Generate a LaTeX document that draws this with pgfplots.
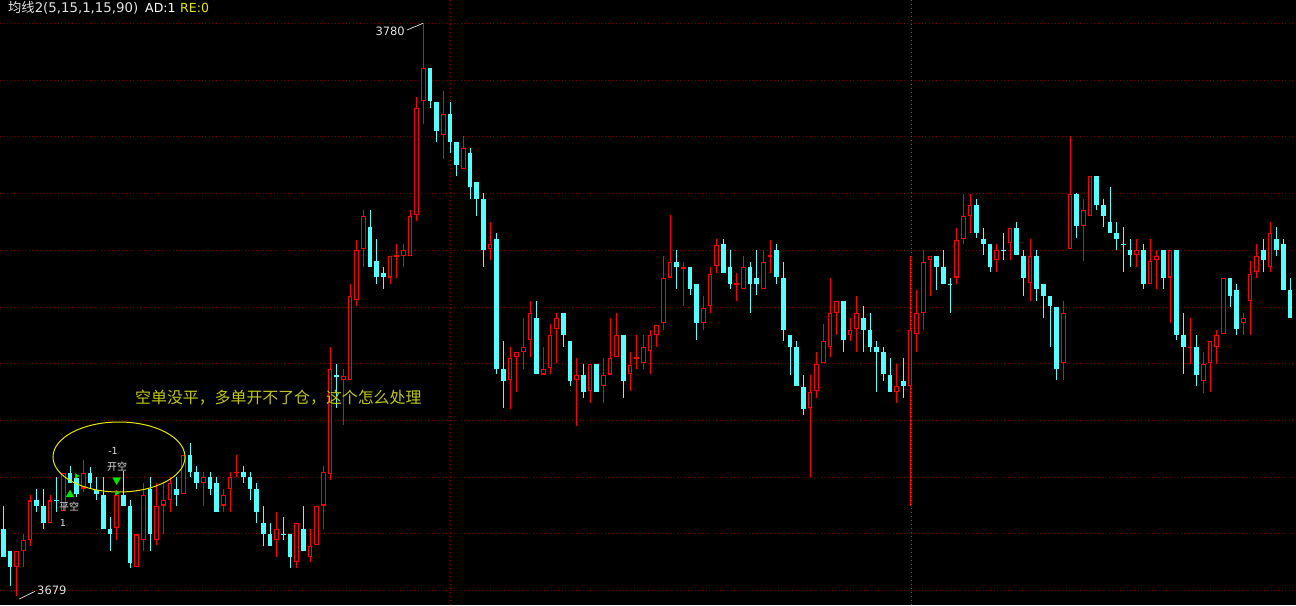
\documentclass[border=0pt]{standalone}
\usepackage{fontspec}
\setmainfont{DejaVu Sans}
\newfontfamily\cjk{Noto Sans CJK SC}
\usepackage{pgfplots}
\pgfplotsset{compat=1.18}
\usepackage{pgfplotstable}
\definecolor{kcyan}{RGB}{84,255,255}
\definecolor{kred}{RGB}{255,0,0}
\definecolor{gridred}{RGB}{125,0,0}
\definecolor{vred}{RGB}{150,0,0}
\definecolor{vgrey}{RGB}{90,90,90}
\definecolor{sig}{RGB}{0,230,0}
\definecolor{note}{RGB}{190,200,20}
\definecolor{ell}{RGB}{230,230,0}
\definecolor{lab}{RGB}{225,225,225}

% up candles (red, hollow): index open high low close
\pgfplotstableread{
i O H L C
2 3684.1 3687.0 3679.0 3687.0
3 3687.0 3689.9 3684.1 3688.9
4 3689.0 3696.8 3687.9 3695.9
7 3692.0 3696.8 3692.0 3695.9
9 3694.0 3700.8 3694.0 3700.8
12 3698.0 3703.0 3697.4 3700.8
17 3691.0 3697.8 3689.0 3696.8
20 3684.1 3689.9 3684.1 3689.9
21 3689.0 3698.9 3687.0 3696.8
23 3689.0 3698.9 3688.0 3694.9
24 3695.0 3698.9 3690.0 3695.9
25 3696.0 3700.0 3693.9 3698.9
27 3697.0 3703.9 3697.0 3703.9
30 3699.0 3700.9 3695.0 3700.0
33 3695.0 3697.9 3693.9 3696.8
34 3697.9 3700.9 3693.9 3700.0
35 3700.9 3703.9 3700.0 3700.9
41 3689.0 3693.9 3686.0 3690.9
44 3685.0 3691.9 3684.0 3691.9
46 3686.0 3690.9 3685.0 3687.9
47 3688.0 3694.9 3688.0 3694.9
48 3695.0 3702.0 3690.9 3700.9
49 3700.5 3722.9 3699.5 3719.0
51 3717.1 3719.0 3709.2 3717.9
52 3717.1 3734.0 3717.1 3731.9
53 3731.2 3741.9 3730.2 3740.0
54 3740.2 3747.1 3737.1 3746.0
58 3735.2 3739.0 3734.0 3739.0
59 3739.0 3741.1 3735.2 3739.0
60 3739.0 3741.1 3737.1 3740.0
61 3739.0 3747.1 3739.0 3746.0
62 3746.2 3767.0 3745.1 3765.0
63 3766.3 3780.0 3762.2 3772.1
66 3760.3 3768.1 3756.1 3764.0
69 3754.3 3760.1 3754.3 3758.0
73 3740.2 3745.0 3738.2 3741.1
76 3717.1 3723.0 3712.1 3721.0
77 3721.1 3722.0 3715.1 3722.0
78 3722.1 3728.0 3719.1 3723.0
79 3724.1 3731.0 3721.1 3728.9
81 3718.1 3722.9 3718.1 3719.0
82 3719.2 3727.0 3718.1 3725.0
83 3726.1 3729.0 3720.1 3728.0
86 3717.1 3721.0 3709.1 3718.0
88 3715.1 3719.9 3713.0 3719.9
90 3716.0 3721.0 3713.0 3718.0
91 3718.1 3728.0 3718.1 3721.0
92 3721.1 3728.9 3721.1 3725.0
94 3718.1 3722.1 3715.1 3719.8
95 3721.0 3725.0 3719.1 3721.0
96 3720.1 3725.0 3719.1 3722.9
97 3722.2 3725.9 3718.1 3725.0
98 3725.1 3726.9 3723.0 3726.9
99 3727.1 3739.0 3725.9 3735.1
100 3735.2 3746.2 3735.2 3738.0
102 3736.9 3738.0 3730.1 3736.9
105 3727.1 3731.9 3725.9 3729.9
106 3730.1 3737.1 3729.0 3735.9
107 3737.2 3742.0 3736.0 3741.0
110 3734.1 3736.0 3731.1 3734.1
111 3733.1 3739.0 3733.1 3737.1
114 3733.1 3740.0 3733.1 3738.0
115 3739.0 3741.8 3736.0 3739.0
121 3712.1 3718.0 3700.1 3715.0
122 3715.1 3722.1 3714.0 3719.9
123 3720.1 3727.0 3720.1 3724.0
124 3723.0 3735.1 3721.1 3728.9
125 3729.0 3731.1 3725.1 3731.1
127 3725.1 3728.0 3724.0 3725.9
128 3726.1 3731.9 3722.1 3728.9
134 3715.0 3720.0 3713.0 3716.0
136 3716.0 3739.0 3694.9 3725.9
137 3725.2 3733.0 3722.1 3728.9
138 3729.0 3740.0 3725.9 3738.0
139 3738.2 3739.0 3731.9 3739.0
143 3735.2 3744.0 3734.1 3741.9
144 3742.0 3750.0 3741.1 3746.0
145 3746.1 3750.0 3743.1 3747.9
149 3738.2 3741.1 3736.1 3740.0
151 3741.2 3744.0 3738.2 3744.0
154 3734.2 3742.0 3731.1 3739.0
159 3720.1 3731.1 3717.1 3728.9
160 3740.2 3760.1 3740.2 3750.0
162 3744.2 3749.0 3738.1 3747.1
163 3746.1 3753.1 3746.1 3753.1
170 3739.1 3742.0 3737.1 3740.1
172 3734.1 3742.0 3734.1 3738.1
173 3738.2 3740.1 3733.1 3739.0
175 3735.2 3740.1 3727.1 3740.1
178 3722.9 3728.1 3720.0 3722.9
180 3717.0 3722.0 3714.9 3720.0
181 3720.1 3724.0 3715.0 3724.0
182 3723.0 3725.9 3720.0 3725.0
183 3725.2 3735.1 3725.2 3735.1
186 3727.1 3728.9 3725.1 3728.0
187 3731.1 3738.1 3725.1 3735.9
188 3736.1 3741.1 3735.1 3739.0
190 3737.1 3745.0 3736.1 3743.0
}\upc

% down candles (cyan, filled)
\pgfplotstableread{
i O H L C
0 3690.9 3694.9 3686.0 3686.0
1 3687.0 3687.0 3680.9 3684.1
5 3696.0 3697.9 3693.9 3695.0
6 3694.9 3697.9 3690.9 3692.0
8 3695.9 3700.0 3693.9 3695.9
10 3700.8 3702.0 3698.9 3699.0
11 3699.9 3700.5 3696.5 3697.0
13 3700.8 3701.8 3698.0 3699.0
14 3697.8 3700.0 3696.0 3697.0
15 3696.8 3700.0 3690.9 3690.9
16 3690.9 3693.0 3687.0 3690.0
18 3696.8 3701.0 3695.0 3695.0
19 3694.9 3696.0 3684.0 3684.9
22 3697.9 3700.0 3687.0 3690.0
26 3697.9 3700.0 3695.0 3696.8
28 3703.9 3706.0 3700.1 3700.9
29 3700.9 3702.0 3697.9 3698.9
31 3700.0 3700.9 3696.9 3697.9
32 3699.0 3700.0 3693.9 3693.9
36 3700.9 3702.0 3699.0 3700.0
37 3700.0 3700.9 3696.0 3697.9
38 3697.9 3699.0 3691.9 3693.9
39 3691.9 3694.9 3687.9 3690.0
40 3690.0 3691.9 3687.9 3687.9
42 3689.9 3693.0 3688.9 3689.9
43 3689.9 3689.9 3684.0 3686.0
45 3690.9 3694.9 3687.0 3687.0
50 3717.9 3720.0 3712.1 3717.9
55 3744.1 3747.1 3737.1 3737.1
56 3738.1 3741.9 3734.0 3735.2
57 3736.0 3737.1 3733.1 3735.2
64 3772.1 3772.1 3765.1 3766.3
65 3766.1 3766.1 3759.1 3761.1
67 3764.0 3766.1 3757.2 3759.1
68 3759.1 3759.1 3753.1 3755.1
70 3757.1 3758.0 3749.1 3751.2
71 3752.0 3752.0 3746.1 3749.1
72 3749.0 3750.0 3737.1 3740.1
74 3742.0 3743.0 3718.1 3719.1
75 3719.1 3724.0 3712.1 3717.0
80 3728.1 3731.0 3718.1 3718.1
84 3729.0 3729.0 3723.0 3725.1
85 3724.0 3724.0 3716.0 3717.0
87 3718.0 3720.0 3714.0 3715.1
89 3720.0 3720.0 3715.1 3715.1
93 3725.0 3725.0 3714.0 3717.0
101 3738.0 3740.0 3733.1 3737.1
103 3737.1 3737.1 3732.1 3733.1
104 3734.1 3734.1 3724.1 3727.1
108 3741.1 3742.0 3736.0 3736.0
109 3737.1 3740.0 3733.1 3734.1
112 3737.1 3738.0 3728.9 3734.1
113 3735.1 3740.0 3732.1 3734.1
116 3740.0 3741.1 3734.1 3735.2
117 3735.1 3738.0 3724.0 3726.0
118 3725.0 3725.0 3718.0 3723.0
119 3722.9 3724.0 3716.0 3716.0
120 3715.9 3718.0 3711.0 3712.1
126 3731.1 3731.1 3722.1 3724.1
129 3728.0 3730.1 3722.1 3726.0
130 3725.9 3728.9 3722.1 3723.0
131 3723.0 3724.0 3715.0 3722.1
132 3722.1 3723.0 3717.0 3718.1
133 3718.0 3721.0 3715.0 3715.0
135 3717.0 3721.0 3714.0 3716.0
140 3739.0 3739.0 3733.0 3737.1
141 3737.1 3740.0 3734.1 3734.1
142 3734.0 3735.1 3728.9 3734.0
146 3747.9 3749.0 3742.1 3743.1
147 3742.0 3744.0 3739.1 3741.1
148 3741.1 3741.1 3736.1 3737.1
150 3740.0 3743.0 3738.2 3740.0
152 3744.0 3745.0 3739.1 3739.1
153 3739.0 3740.0 3732.0 3735.2
155 3739.0 3740.0 3731.1 3733.1
156 3734.1 3734.1 3728.1 3732.0
157 3732.0 3732.0 3723.0 3730.1
158 3730.0 3730.0 3717.1 3719.1
161 3750.0 3750.0 3742.1 3744.2
164 3753.1 3753.1 3747.1 3748.0
165 3748.0 3749.0 3744.1 3746.1
166 3745.0 3751.2 3743.1 3743.1
167 3743.0 3745.0 3740.1 3742.0
168 3741.1 3744.1 3736.1 3741.1
169 3740.1 3742.0 3737.1 3739.1
171 3740.1 3741.1 3733.1 3734.1
174 3740.1 3740.1 3733.1 3735.2
176 3740.1 3740.1 3724.1 3725.1
177 3725.1 3728.9 3718.1 3723.0
179 3723.0 3725.1 3716.0 3718.0
184 3735.1 3735.1 3730.0 3732.0
185 3733.0 3734.1 3725.1 3726.1
189 3740.0 3742.0 3736.1 3738.2
191 3742.0 3744.1 3739.0 3740.0
192 3741.1 3742.0 3733.0 3733.0
193 3733.0 3735.1 3728.1 3728.1
}\dnc

\begin{document}
\begin{tikzpicture}
\begin{axis}[
  scale only axis, width=1296pt, height=605pt,
  xmin=-0.5, xmax=193.9, ymin=3677.46, ymax=3784.11,
  axis background/.style={fill=black},
  axis line style={draw=none},
  xtick=\empty,
  ytick={3680,3690,...,3780}, yticklabels={},
  major tick length=0pt,
  ymajorgrids,
  major grid style={draw=gridred, line width=0.9pt, dash pattern=on 1pt off 2.6pt},
]
\coordinate (BL) at (rel axis cs:0,0);
\coordinate (TR) at (rel axis cs:1,1);

% vertical separators
\draw[vred, line width=1pt, dash pattern=on 1pt off 3pt] (axis cs:67.07,3677.46) -- (axis cs:67.07,3784.11);
\draw[vgrey, line width=1pt, dash pattern=on 1pt off 3pt] (axis cs:136.25,3677.46) -- (axis cs:136.25,3784.11);

% cyan wicks and bodies
\addplot[draw=none, mark=none, forget plot, error bars/.cd, y dir=both, y explicit, error mark=none,
  error bar style={draw=kcyan, line width=1pt, solid}]
  table[x=i, y expr={(\thisrow{H}+\thisrow{L})/2}, y error expr={(\thisrow{H}-\thisrow{L})/2}] {\dnc};
\addplot[draw=none, mark=none, forget plot, error bars/.cd, y dir=both, y explicit, error mark=none,
  error bar style={draw=kcyan, line width=4.8pt, solid}]
  table[x=i, y expr={(\thisrow{O}+\thisrow{C})/2}, y error expr={max((\thisrow{O}-\thisrow{C})/2,0.09)}] {\dnc};

% red wicks and hollow bodies
\addplot[draw=none, mark=none, forget plot, error bars/.cd, y dir=both, y explicit, error mark=none,
  error bar style={draw=kred, line width=1pt, solid}]
  table[x=i, y expr={(\thisrow{H}+\thisrow{L})/2}, y error expr={(\thisrow{H}-\thisrow{L})/2}] {\upc};
\addplot[draw=none, mark=none, forget plot, error bars/.cd, y dir=both, y explicit, error mark=none,
  error bar style={draw=kred, line width=4.8pt, solid}]
  table[x=i, y expr={(\thisrow{O}+\thisrow{C})/2}, y error expr={max((\thisrow{C}-\thisrow{O})/2,0.09)}] {\upc};
\addplot[draw=none, mark=none, forget plot, error bars/.cd, y dir=both, y explicit, error mark=none,
  error bar style={draw=black, line width=2.6pt, solid}]
  table[x=i, y expr={(\thisrow{O}+\thisrow{C})/2}, y error expr={max((\thisrow{C}-\thisrow{O})/2-0.19,0)}] {\upc};

% signals
\addplot[only marks, mark=triangle*, mark size=4.5pt, color=sig] coordinates {(10,3696.9)};
\addplot[only marks, mark=triangle*, mark size=4.5pt, color=sig, mark options={rotate=180}] coordinates {(17,3699.5)};
\addplot[only marks, mark=triangle*, mark size=2.5pt, color=sig, mark options={rotate=-90}] coordinates {(11,3700.2) (17,3697.2)};

% annotation ellipse
\draw[ell, line width=1pt] (axis cs:17.35,3703.55) ellipse [x radius=66pt, y radius=35pt];

% signal labels
\node[lab, inner sep=0pt, font=\cjk\fontsize{10}{10}\selectfont] at (axis cs:9.85,3694.74) {平空};
\node[lab, inner sep=0pt, font=\fontsize{9.5}{10}\selectfont] at (axis cs:8.95,3691.92) {1};
\node[lab, inner sep=0pt, font=\cjk\fontsize{10}{10}\selectfont] at (axis cs:17.05,3701.79) {开空};
\node[lab, inner sep=0pt, font=\fontsize{9.5}{10}\selectfont] at (axis cs:16.45,3704.61) {-1};

% high / low labels
\draw[lab, line width=0.7pt] (axis cs:60.55,3778.82) -- (axis cs:62.95,3780.0);
\node[lab, anchor=east, inner sep=0pt, font=\fontsize{11.5}{12}\selectfont] at (axis cs:60.25,3778.64) {3780};
\draw[lab, line width=0.7pt] (axis cs:2.40,3678.52) -- (axis cs:4.75,3679.88);
\node[lab, anchor=west, inner sep=0pt, font=\fontsize{11.5}{12}\selectfont] at (axis cs:5.05,3680.11) {3679};

% comment
\node[note, anchor=west, inner sep=0pt, font=\cjk\fontsize{15.9}{17}\selectfont] at (axis cs:19.75,3714.1) {空单没平，多单开不了仓，这个怎么处理};

% title
\node[lab, anchor=west, inner sep=0pt, font=\fontsize{13.3}{14}\selectfont] at (rel axis cs:0.00617,0.9868) {{\cjk 均线}2(5,15,1,15,90)};
\node[white, anchor=west, inner sep=0pt, font=\fontsize{12.5}{13}\selectfont] at (rel axis cs:0.1119,0.9868) {AD:1};
\node[ell, anchor=west, inner sep=0pt, font=\fontsize{12.5}{13}\selectfont] at (rel axis cs:0.1389,0.9868) {RE:0};
\end{axis}
\pgfresetboundingbox
\path[use as bounding box] (BL) rectangle (TR);
\end{tikzpicture}
\end{document}
